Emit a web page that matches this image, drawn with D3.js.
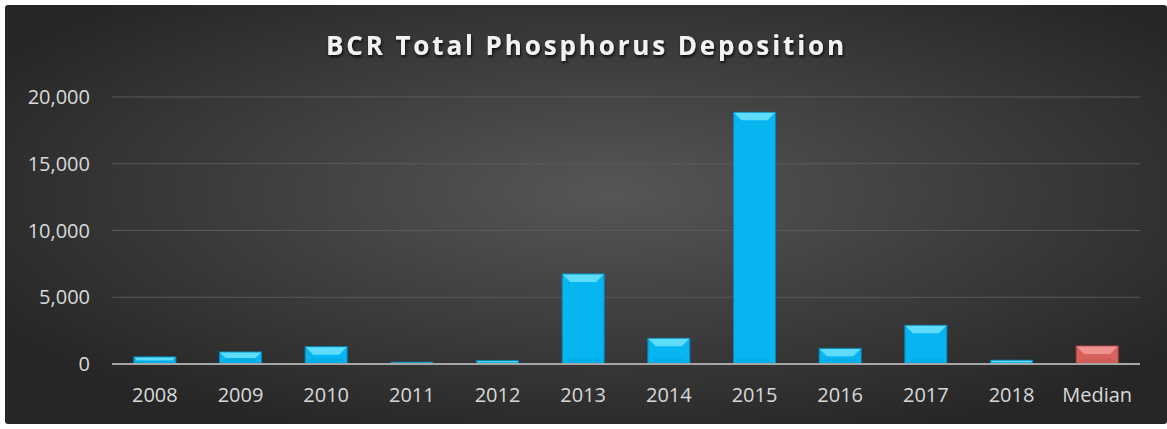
<!DOCTYPE html>
<html>
<head>
<meta charset="utf-8">
<script src="https://cdn.jsdelivr.net/npm/d3@7"></script>
<style>
  body { margin: 0; background: #fff; }
  svg { display: block; }
</style>
</head>
<body>
<div class="chart"></div>
<script>
var years = ['2008', '2009', '2010', '2011', '2012', '2013', '2014', '2015', '2016', '2017', '2018', 'Median'];
var values = [530, 900, 1300, 130, 250, 6750, 1920, 18850, 1170, 2900, 280, 1350];
var yTicks = [0, 5000, 10000, 15000, 20000];
var title = 'BCR Total Phosphorus Deposition';

var width = 1167;
var height = 429;
var blue = '#07b6f0';
var blueLight = '#5fdcfa';
var blueEdge = '#0788b8';
var red = '#d9625e';
var redLight = '#f09390';
var redEdge = '#a8403d';

var svg = d3.select('.chart')
  .append('svg')
  .attr('width', width)
  .attr('height', height);

var defs = svg.append('defs');

var bg = defs.append('radialGradient')
  .attr('id', 'bg')
  .attr('cx', '0.52').attr('cy', '0.45')
  .attr('r', '0.62');
bg.append('stop').attr('offset', '0%').attr('stop-color', '#565656');
bg.append('stop').attr('offset', '100%').attr('stop-color', '#262626');

var shadow = defs.append('filter').attr('id', 'tshadow')
  .attr('x', '-10%').attr('y', '-30%').attr('width', '120%').attr('height', '160%');
shadow.append('feDropShadow')
  .attr('dx', 1).attr('dy', 2).attr('stdDeviation', 1.5)
  .attr('flood-color', '#000').attr('flood-opacity', 0.8);

/// background
svg.append('rect')
  .attr('x', 5).attr('y', 5)
  .attr('width', width - 5).attr('height', height - 10)
  .attr('rx', 3)
  .attr('fill', 'url(#bg)');

/// scales
var x = d3.scaleBand()
  .domain(years)
  .range([112, 1140])
  .paddingInner(0.51)
  .paddingOuter(0.255);

var y = d3.scaleLinear()
  .domain([0, 20000])
  .range([364, 97]);

/// gridlines
svg.append('g')
  .selectAll('line')
  .data(yTicks.filter(function(d){ return d > 0; }))
  .enter().append('line')
  .attr('x1', 112).attr('x2', 1140)
  .attr('y1', function(d){ return y(d); })
  .attr('y2', function(d){ return y(d); })
  .attr('stroke', '#595959')
  .attr('stroke-width', 1.2);

/// y labels
svg.append('g')
  .selectAll('text')
  .data(yTicks)
  .enter().append('text')
  .attr('x', 90)
  .attr('y', function(d){ return y(d); })
  .attr('dy', '0.36em')
  .attr('text-anchor', 'end')
  .attr('font-family', 'Open Sans')
  .attr('font-size', '20px')
  .attr('fill', '#d9d9d9')
  .text(function(d){ return d3.format(',')(d); });

/// bars
var bars = svg.append('g')
  .selectAll('g')
  .data(years)
  .enter().append('g');

function barColor(i, which) {
  var median = years[i] === 'Median';
  if (which === 'light') return median ? redLight : blueLight;
  if (which === 'edge') return median ? redEdge : blueEdge;
  return median ? red : blue;
}

bars.append('rect')
  .attr('x', function(d){ return x(d); })
  .attr('y', function(d, i){ return y(values[i]); })
  .attr('width', x.bandwidth())
  .attr('height', function(d, i){ return y(0) - y(values[i]); })
  .attr('fill', function(d, i){ return barColor(i); })
  .attr('stroke', function(d, i){ return barColor(i, 'edge'); })
  .attr('stroke-width', 1);

// top bevel
bars.append('polygon')
  .attr('fill', function(d, i){ return barColor(i, 'light'); })
  .attr('points', function(d, i){
    var x0 = x(d), x1 = x(d) + x.bandwidth();
    var top = y(values[i]);
    var h = Math.min(8, (y(0) - top) / 2);
    return [[x0 + 0.5, top + 0.5], [x1 - 0.5, top + 0.5], [x1 - h, top + h], [x0 + h, top + h]].join(' ');
  });

// bottom bevel
bars.append('polygon')
  .attr('fill', function(d, i){ return barColor(i, 'edge'); })
  .attr('fill-opacity', 0.15)
  .attr('points', function(d, i){
    var x0 = x(d), x1 = x(d) + x.bandwidth();
    var bot = y(0);
    var h = Math.min(6, (bot - y(values[i])) / 2);
    return [[x0 + 0.5, bot], [x1 - 0.5, bot], [x1 - h, bot - h], [x0 + h, bot - h]].join(' ');
  });

/// zero line
svg.append('line')
  .attr('x1', 112).attr('x2', 1140)
  .attr('y1', y(0)).attr('y2', y(0))
  .attr('stroke', '#a6a6a6')
  .attr('stroke-width', 2);

/// x labels
svg.append('g')
  .selectAll('text')
  .data(years)
  .enter().append('text')
  .attr('x', function(d){ return x(d) + x.bandwidth() / 2; })
  .attr('y', 402)
  .attr('text-anchor', 'middle')
  .attr('font-family', 'Open Sans')
  .attr('font-size', '20px')
  .attr('fill', '#d9d9d9')
  .text(function(d){ return d; });

/// title
svg.append('text')
  .attr('x', 585)
  .attr('y', 55)
  .attr('text-anchor', 'middle')
  .attr('font-family', 'Open Sans')
  .attr('font-weight', 'bold')
  .attr('font-size', '26px')
  .attr('textLength', 518)
  .attr('lengthAdjust', 'spacing')
  .attr('fill', '#f2f2f2')
  .attr('filter', 'url(#tshadow)')
  .text(title);
</script>
</body>
</html>
